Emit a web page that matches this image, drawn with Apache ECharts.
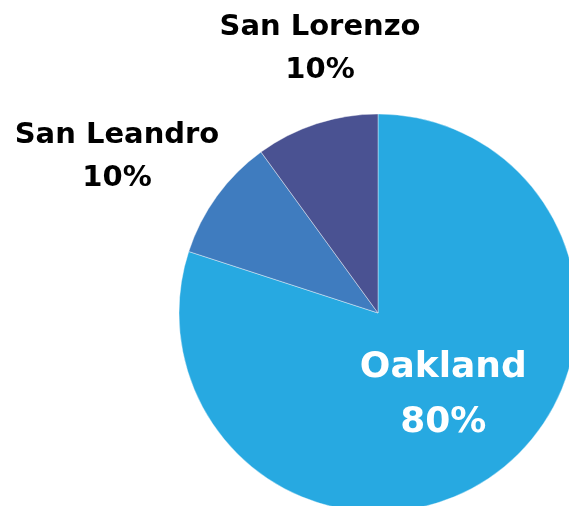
<!DOCTYPE html>
<html><head><meta charset="utf-8">
<script src="https://cdn.jsdelivr.net/npm/echarts@6/dist/echarts.min.js"></script>
<style>html,body{margin:0;padding:0;background:#fff}#c{width:569px;height:506px}</style>
</head><body><div id="c"></div>
<script>
const categories = ["Oakland", "San Leandro", "San Lorenzo"];
const values = [80, 10, 10];
const colors = ["#27A9E1", "#3F7CBF", "#4A5292"];

const chart = echarts.init(document.getElementById('c'));
const labelPos = { "San Leandro": [117, 157], "San Lorenzo": [320, 49] };
chart.setOption({
  animation: false,
  series: [{
    type: 'pie',
    center: [378, 313],
    radius: [0, 199],
    startAngle: 90,
    clockwise: true,
    data: categories.map((c, i) => ({
      name: c, value: values[i],
      itemStyle: { color: colors[i] },
      label: i === 0 ? {
        position: 'inside', color: '#fff', fontSize: 36, lineHeight: 55,
        offset: [5, -1]
      } : {
        position: 'outside', color: '#000', fontSize: 29, lineHeight: 43
      },
      labelLine: { show: false }
    })),
    itemStyle: { borderColor: '#fff', borderWidth: 0.4 },
    label: {
      formatter: '{b}\n{d}%',
      fontFamily: 'DejaVu Sans', fontWeight: 'bold', align: 'center',
      overflow: 'none', width: 400
    },
    labelLayout: function (p) {
      const name = categories[p.dataIndex];
      if (labelPos[name]) {
        return { x: labelPos[name][0], y: labelPos[name][1], align: 'center', verticalAlign: 'middle' };
      }
      return {};
    }
  }]
});
</script></body></html>
